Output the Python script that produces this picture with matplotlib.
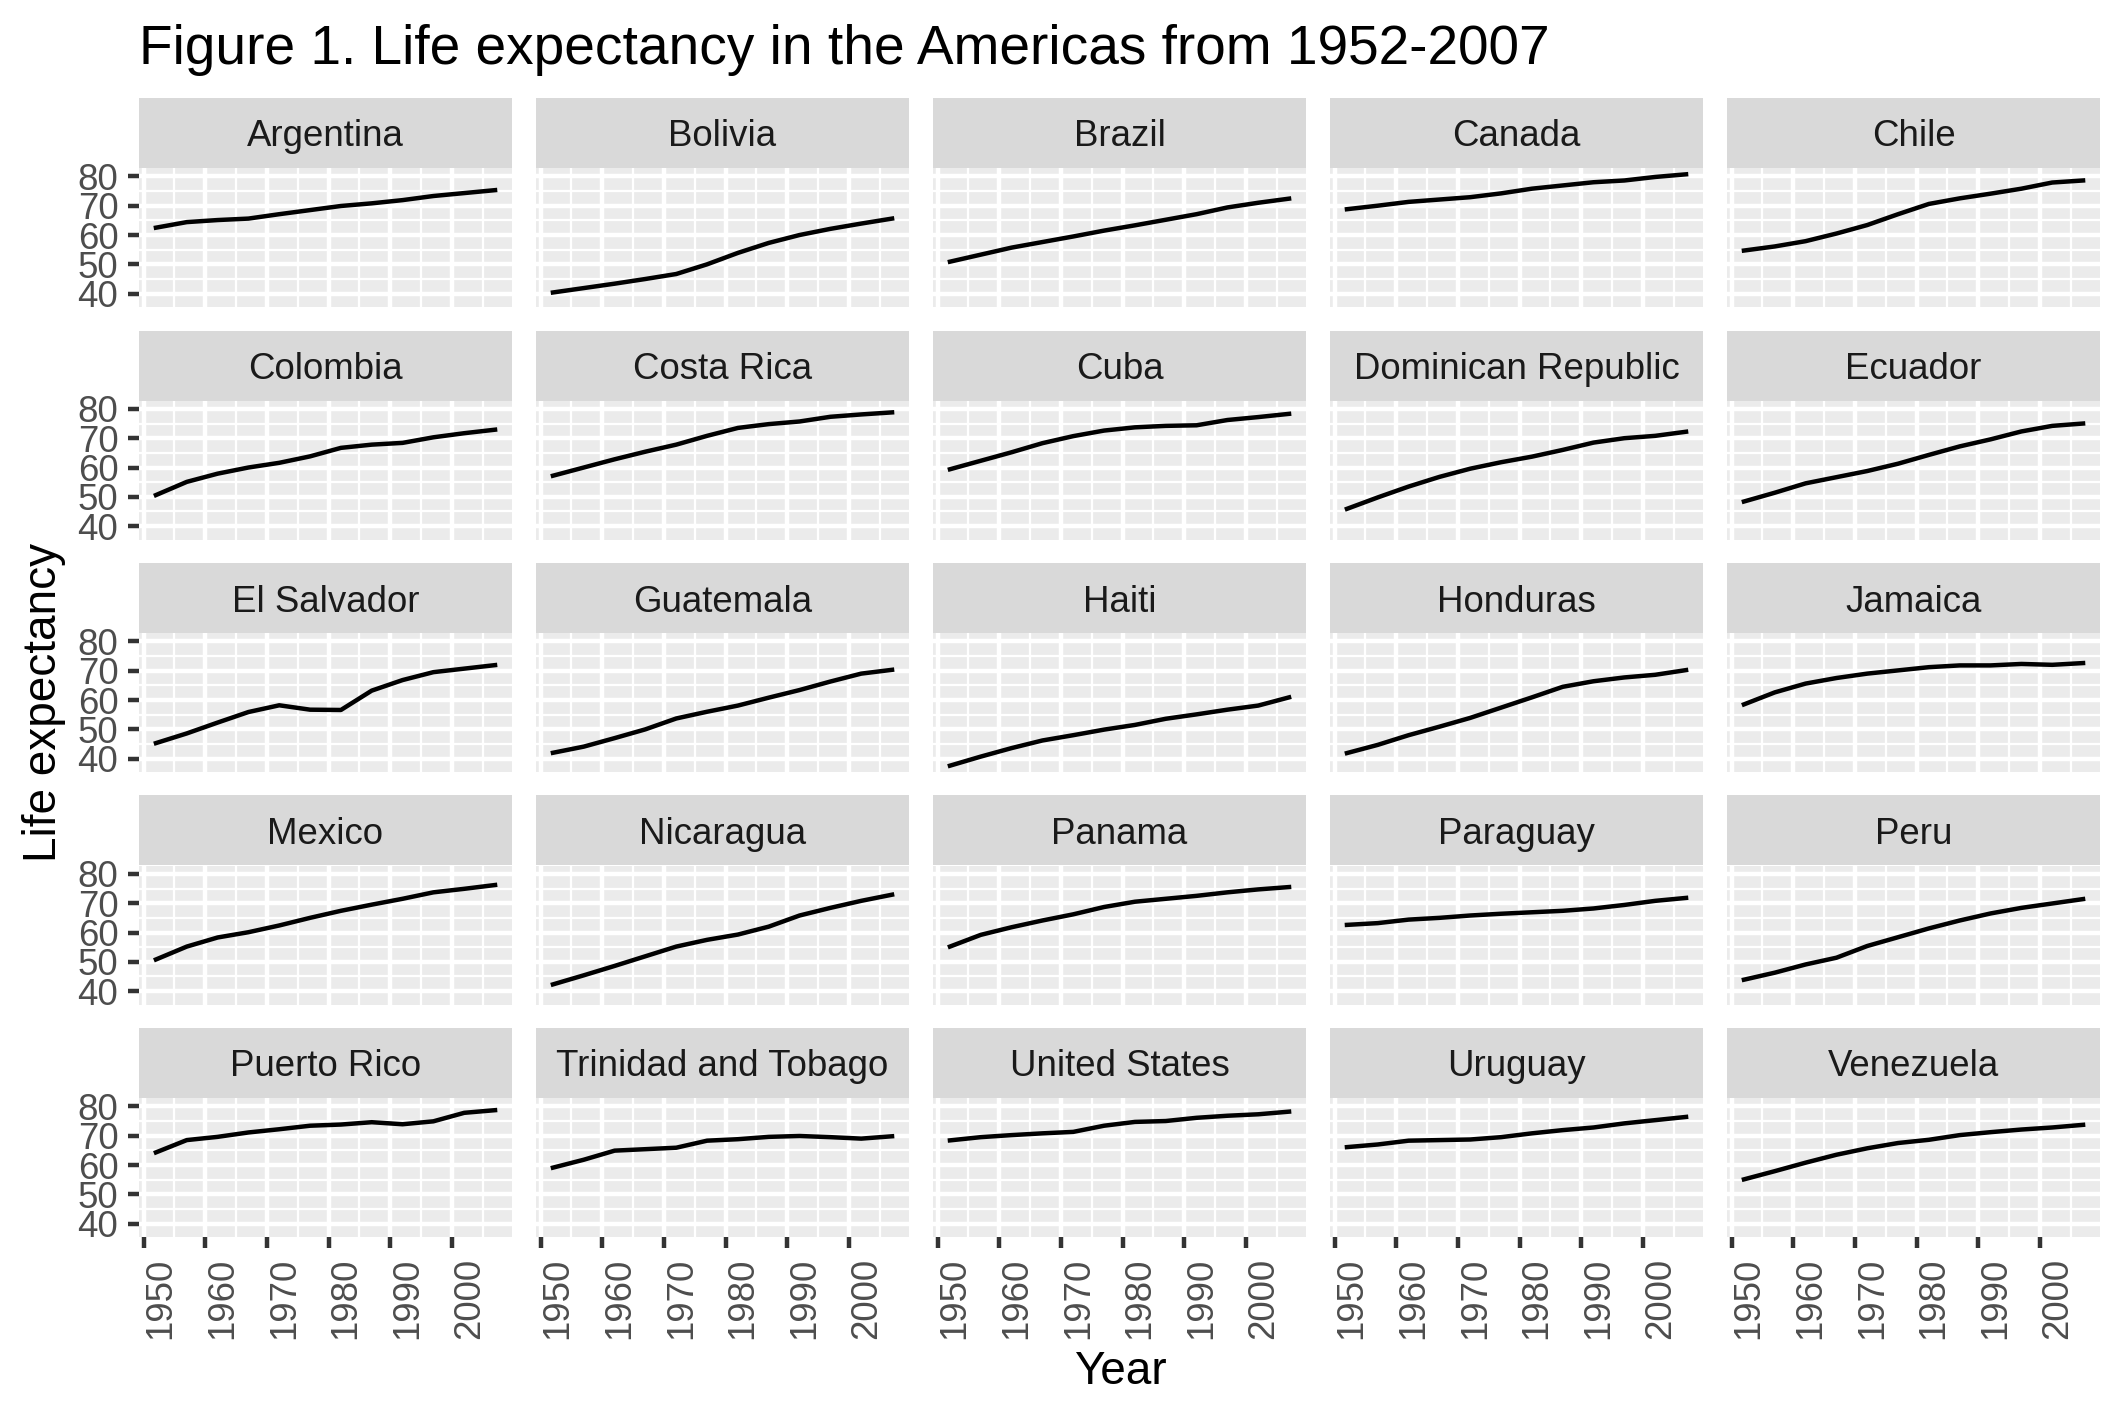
import matplotlib
matplotlib.use("Agg")
import matplotlib.pyplot as plt
from matplotlib.ticker import MultipleLocator

plt.rcParams["font.family"] = ["Liberation Sans", "DejaVu Sans"]

# ── Data: gapminder life expectancy, Americas ────────────────────────────────
years = [1952, 1957, 1962, 1967, 1972, 1977, 1982, 1987, 1992, 1997, 2002, 2007]

countries = ["Argentina", "Bolivia", "Brazil", "Canada", "Chile",
             "Colombia", "Costa Rica", "Cuba", "Dominican Republic", "Ecuador",
             "El Salvador", "Guatemala", "Haiti", "Honduras", "Jamaica",
             "Mexico", "Nicaragua", "Panama", "Paraguay", "Peru",
             "Puerto Rico", "Trinidad and Tobago", "United States", "Uruguay", "Venezuela"]

argentina = [62.5, 64.4, 65.1, 65.6, 67.1, 68.5, 69.9, 70.8, 71.9, 73.3, 74.3, 75.3]
bolivia = [40.4, 41.9, 43.4, 45.0, 46.7, 50.0, 53.9, 57.3, 60.0, 62.1, 63.9, 65.6]
brazil = [50.9, 53.3, 55.7, 57.6, 59.5, 61.5, 63.3, 65.2, 67.1, 69.4, 71.0, 72.4]
canada = [68.8, 70.0, 71.3, 72.1, 72.9, 74.2, 75.8, 76.9, 78.0, 78.6, 79.8, 80.7]
chile = [54.7, 56.1, 57.9, 60.5, 63.4, 67.1, 70.6, 72.5, 74.1, 75.8, 77.9, 78.6]
colombia = [50.6, 55.1, 57.9, 60.0, 61.6, 63.8, 66.7, 67.8, 68.4, 70.3, 71.7, 72.9]
costa_rica = [57.2, 60.0, 62.8, 65.4, 67.8, 70.8, 73.5, 74.8, 75.7, 77.3, 78.1, 78.8]
cuba = [59.4, 62.3, 65.2, 68.3, 70.7, 72.6, 73.7, 74.2, 74.4, 76.2, 77.2, 78.3]
dominican_rep = [45.9, 49.8, 53.5, 56.8, 59.6, 61.8, 63.7, 66.0, 68.5, 70.0, 70.8, 72.2]
ecuador = [48.4, 51.4, 54.6, 56.7, 58.8, 61.3, 64.3, 67.2, 69.6, 72.3, 74.2, 75.0]
el_salvador = [45.3, 48.6, 52.3, 55.9, 58.2, 56.7, 56.6, 63.2, 66.8, 69.5, 70.7, 71.9]
guatemala = [42.0, 44.1, 47.0, 50.0, 53.7, 56.0, 58.1, 60.8, 63.4, 66.3, 69.0, 70.3]
haiti = [37.6, 40.7, 43.6, 46.2, 48.0, 49.9, 51.5, 53.6, 55.1, 56.7, 58.1, 60.9]
honduras = [41.9, 44.7, 48.0, 50.9, 53.9, 57.4, 60.9, 64.5, 66.4, 67.7, 68.6, 70.2]
jamaica = [58.5, 62.6, 65.6, 67.5, 69.0, 70.1, 71.2, 71.8, 71.8, 72.3, 72.0, 72.6]
mexico = [50.8, 55.2, 58.3, 60.1, 62.4, 65.0, 67.4, 69.5, 71.5, 73.7, 74.9, 76.2]
nicaragua = [42.3, 45.4, 48.6, 51.9, 55.2, 57.5, 59.3, 62.0, 65.8, 68.4, 70.8, 72.9]
panama = [55.2, 59.2, 61.8, 64.1, 66.2, 68.7, 70.5, 71.5, 72.5, 73.7, 74.7, 75.5]
paraguay = [62.6, 63.2, 64.4, 65.0, 65.8, 66.4, 66.9, 67.4, 68.2, 69.4, 70.8, 71.8]
peru = [43.9, 46.3, 49.1, 51.4, 55.4, 58.4, 61.4, 64.1, 66.5, 68.4, 69.9, 71.4]
puerto_rico = [64.3, 68.5, 69.6, 71.1, 72.2, 73.4, 73.8, 74.6, 73.9, 74.9, 77.8, 78.7]
trinidad = [59.1, 61.8, 64.9, 65.4, 65.9, 68.3, 68.8, 69.6, 69.9, 69.5, 69.0, 69.8]
united_states = [68.4, 69.5, 70.2, 70.8, 71.3, 73.4, 74.7, 75.0, 76.1, 76.8, 77.3, 78.2]
uruguay = [66.1, 67.0, 68.3, 68.5, 68.7, 69.5, 70.8, 71.9, 72.8, 74.2, 75.3, 76.4]
venezuela = [55.1, 57.9, 60.8, 63.5, 65.7, 67.5, 68.6, 70.2, 71.2, 72.1, 72.8, 73.7]

series = [argentina, bolivia, brazil, canada, chile,
          colombia, costa_rica, cuba, dominican_rep, ecuador,
          el_salvador, guatemala, haiti, honduras, jamaica,
          mexico, nicaragua, panama, paraguay, peru,
          puerto_rico, trinidad, united_states, uruguay, venezuela]

# ── Layout (pixels of the 2125x1417 output) ──────────────────────────────────
W, H = 2125, 1417
left0, colstep, pw = 139, 397, 373
top0, rowstep, sh, ph = 98, 232.5, 70, 139
ncol = 5
nrow = 5

# shared scales with ggplot-style 5% expansion
xlo, xhi = min(years), max(years)
xpad = (xhi - xlo) * 0.05
ylo = min(min(s) for s in series)
yhi = max(max(s) for s in series)
ypad = (yhi - ylo) * 0.05

lw = 1.07
fig = plt.figure(figsize=(W / 300, H / 300), dpi=300)

for i, (name, vals) in enumerate(zip(countries, series)):
    r, c = divmod(i, ncol)
    x0 = left0 + c * colstep
    st = top0 + r * rowstep

    # strip
    sax = fig.add_axes([x0 / W, 1 - (st + sh) / H, pw / W, sh / H])
    sax.set_facecolor("#D9D9D9")
    sax.set_xticks([])
    sax.set_yticks([])
    for sp in sax.spines.values():
        sp.set_visible(False)
    sax.text(0.5, 0.5, name, ha="center", va="center_baseline", fontsize=8.8,
             color="#1A1A1A", transform=sax.transAxes)

    # panel
    ax = fig.add_axes([x0 / W, 1 - (st + sh + ph) / H, pw / W, ph / H])
    ax.set_facecolor("#EBEBEB")
    for sp in ax.spines.values():
        sp.set_visible(False)
    ax.plot(years, vals, color="black", lw=lw, solid_joinstyle="round")
    ax.set_xlim(xlo - xpad, xhi + xpad)
    ax.set_ylim(ylo - ypad, yhi + ypad)
    ax.xaxis.set_major_locator(MultipleLocator(10))
    ax.xaxis.set_minor_locator(MultipleLocator(5))
    ax.yaxis.set_major_locator(MultipleLocator(10))
    ax.yaxis.set_minor_locator(MultipleLocator(5))
    ax.set_axisbelow(True)
    ax.grid(which="major", color="white", lw=lw)
    ax.grid(which="minor", color="white", lw=lw / 2)
    ax.tick_params(which="minor", length=0)
    ax.tick_params(which="major", length=2.75, width=lw, color="#333333",
                   labelsize=8.8, labelcolor="#4D4D4D", pad=2.2)
    ax.tick_params(axis="x", bottom=(r == nrow - 1), labelbottom=(r == nrow - 1))
    ax.tick_params(axis="y", left=(c == 0), labelleft=(c == 0))
    if r == nrow - 1:
        for lab in ax.get_xticklabels():
            lab.set_rotation(90)
            lab.set_ha("left")
            lab.set_va("top")

fig.text(139 / W, 1 - 64 / H, "Figure 1. Life expectancy in the Americas from 1952-2007",
         fontsize=13.2, color="black", ha="left", va="baseline")
fig.text(44 / W, 1 - 702.5 / H, "Life expectancy", fontsize=11, rotation=90,
         ha="center", va="center")
fig.text(1120 / W, 1 - 1384 / H, "Year", fontsize=11, ha="center", va="baseline")

fig.savefig("out.png", dpi=300)
